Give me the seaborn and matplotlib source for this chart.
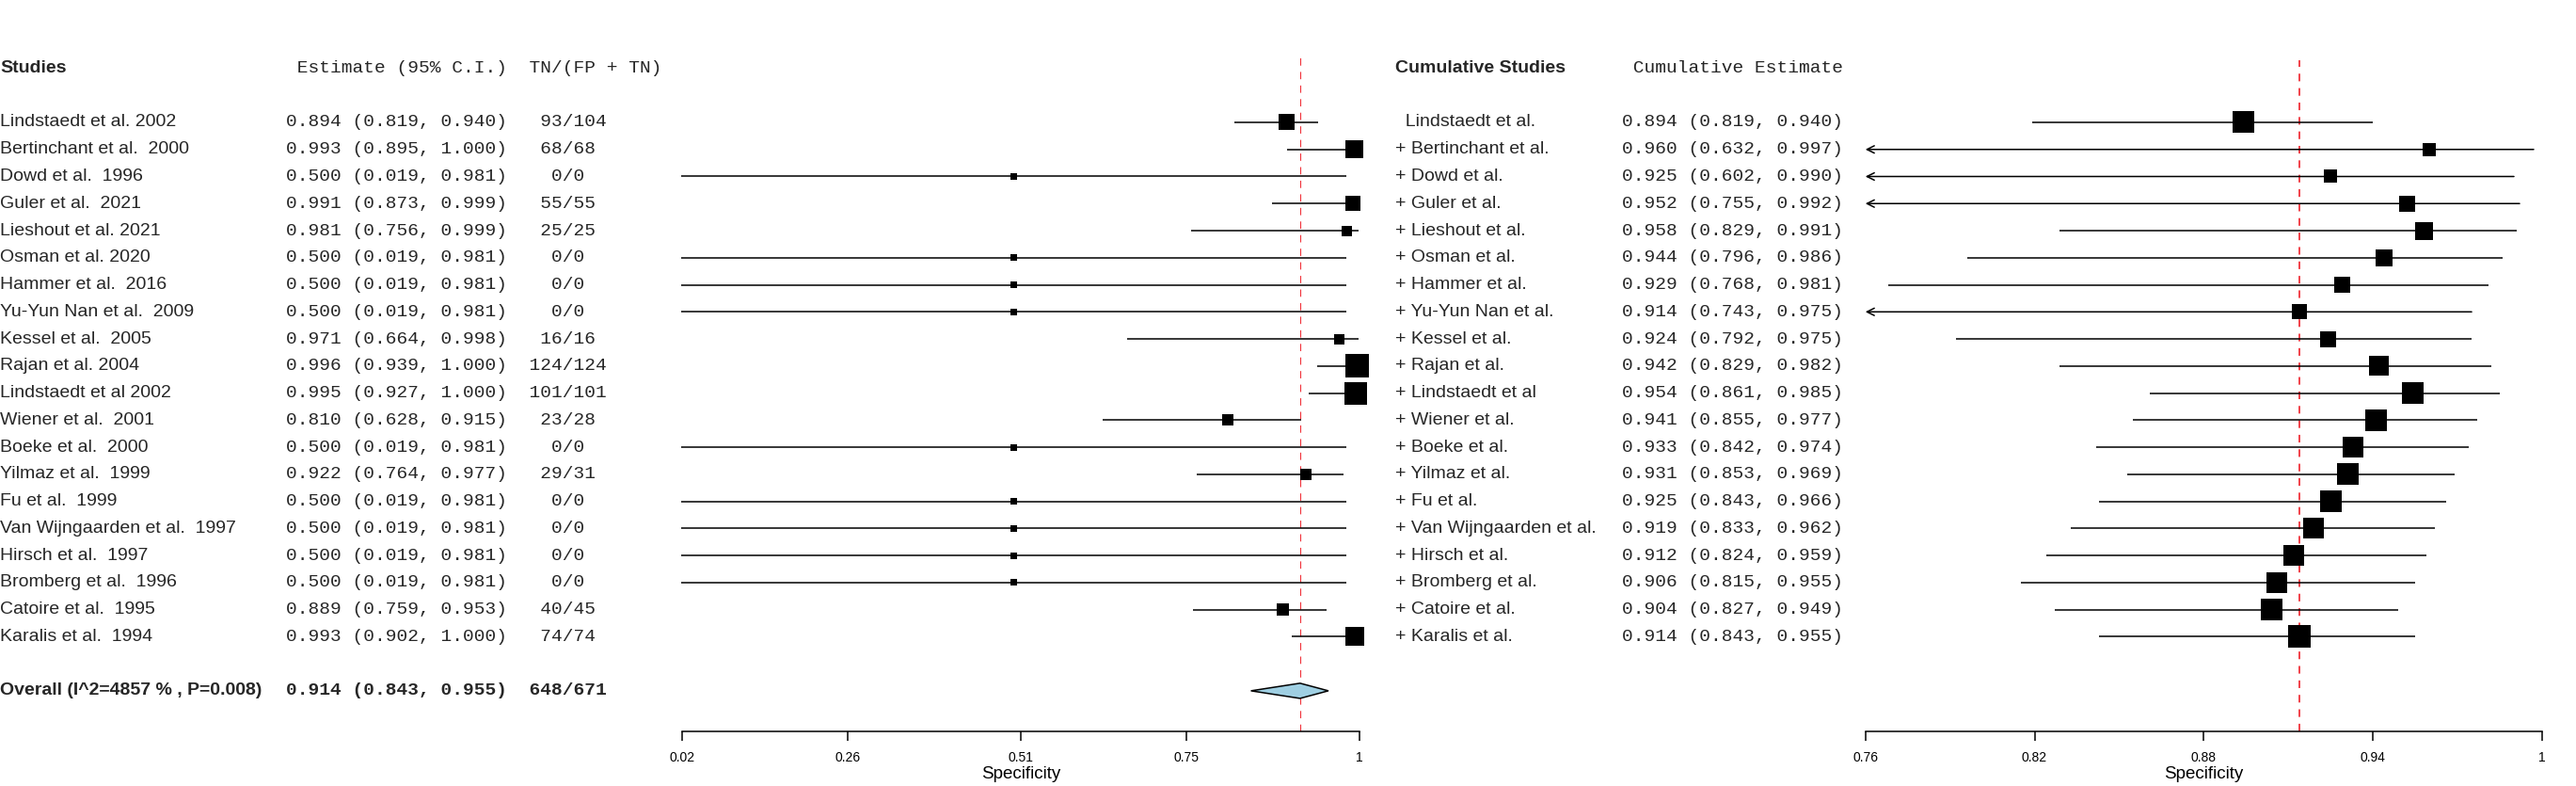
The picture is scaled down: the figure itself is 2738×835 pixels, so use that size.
import numpy as np
import matplotlib
matplotlib.use("Agg")
import matplotlib.pyplot as plt
import matplotlib.transforms as mtransforms
import seaborn as sns

sns.set_theme(style="white")
plt.rcParams["font.family"] = ["Liberation Sans", "DejaVu Sans"]

# ---- data ----
studies = ["Lindstaedt et al. 2002", "Bertinchant et al.  2000", "Dowd et al.  1996",
           "Guler et al.  2021", "Lieshout et al. 2021", "Osman et al. 2020",
           "Hammer et al.  2016", "Yu-Yun Nan et al.  2009", "Kessel et al.  2005",
           "Rajan et al. 2004", "Lindstaedt et al 2002", "Wiener et al.  2001",
           "Boeke et al.  2000", "Yilmaz et al.  1999", "Fu et al.  1999",
           "Van Wijngaarden et al.  1997", "Hirsch et al.  1997", "Bromberg et al.  1996",
           "Catoire et al.  1995", "Karalis et al.  1994"]
est = [0.894, 0.993, 0.500, 0.991, 0.981, 0.500, 0.500, 0.500, 0.971, 0.996,
       0.995, 0.810, 0.500, 0.922, 0.500, 0.500, 0.500, 0.500, 0.889, 0.993]
ci_lo = [0.819, 0.895, 0.019, 0.873, 0.756, 0.019, 0.019, 0.019, 0.664, 0.939,
         0.927, 0.628, 0.019, 0.764, 0.019, 0.019, 0.019, 0.019, 0.759, 0.902]
ci_hi = [0.940, 1.000, 0.981, 0.999, 0.999, 0.981, 0.981, 0.981, 0.998, 1.000,
         1.000, 0.915, 0.981, 0.977, 0.981, 0.981, 0.981, 0.981, 0.953, 1.000]
tn = [93, 68, 0, 55, 25, 0, 0, 0, 16, 124, 101, 23, 0, 29, 0, 0, 0, 0, 40, 74]
fp_tn = [104, 68, 0, 55, 25, 0, 0, 0, 16, 124, 101, 28, 0, 31, 0, 0, 0, 0, 45, 74]
weight_px = [17, 19, 7, 16, 11, 7, 7, 7, 11, 25, 24, 12, 7, 12, 7, 7, 7, 7, 13, 20]

overall_label = "Overall (I^2=4857 % , P=0.008)"
overall_est, overall_lo, overall_hi = 0.914, 0.843, 0.955
overall_tn, overall_n = 648, 671

cum_studies = ["Lindstaedt et al.", "Bertinchant et al.", "Dowd et al.", "Guler et al.",
               "Lieshout et al.", "Osman et al.", "Hammer et al.", "Yu-Yun Nan et al.",
               "Kessel et al.", "Rajan et al.", "Lindstaedt et al", "Wiener et al.",
               "Boeke et al.", "Yilmaz et al.", "Fu et al.", "Van Wijngaarden et al.",
               "Hirsch et al.", "Bromberg et al.", "Catoire et al.", "Karalis et al."]
cum_est = [0.894, 0.960, 0.925, 0.952, 0.958, 0.944, 0.929, 0.914, 0.924, 0.942,
           0.954, 0.941, 0.933, 0.931, 0.925, 0.919, 0.912, 0.906, 0.904, 0.914]
cum_lo = [0.819, 0.632, 0.602, 0.755, 0.829, 0.796, 0.768, 0.743, 0.792, 0.829,
          0.861, 0.855, 0.842, 0.853, 0.843, 0.833, 0.824, 0.815, 0.827, 0.843]
cum_hi = [0.940, 0.997, 0.990, 0.992, 0.991, 0.986, 0.981, 0.975, 0.975, 0.982,
          0.985, 0.977, 0.974, 0.969, 0.966, 0.962, 0.959, 0.955, 0.949, 0.955]
cum_weight_px = [23, 14, 14, 17, 19, 18, 17, 16, 17, 21, 23, 23, 22, 23, 23, 22, 22, 22, 23, 24]

left_ticks = [0.02, 0.26, 0.51, 0.75, 1]
right_ticks = [0.76, 0.82, 0.88, 0.94, 1]

# ---- layout ----
W, H = 2738, 835
fig = plt.figure(figsize=(W / 100, H / 100), dpi=100)
ylim = (23.51, -3.52)
ax1 = fig.add_axes([724.7 / W, 57.7 / H, 720.3 / W, 777.3 / H])
ax2 = fig.add_axes([1982.7 / W, 57.7 / H, 719.3 / W, 777.3 / H])

rows = np.arange(1, len(studies) + 1)
overall_row = len(studies) + 2
header_row = -1
FS = 14
mono = ["Liberation Mono", "DejaVu Sans Mono"]
sans = ["Liberation Sans", "DejaVu Sans"]
red = "#F0323A"


def col_text(ax, xpx, y, s, family=sans, bold=False):
    tr = mtransforms.blended_transform_factory(fig.transFigure, ax.transData)
    ax.text(xpx / W, y, s, transform=tr, ha="left", va="center", fontsize=FS,
            family=family, fontweight="bold" if bold else "normal", clip_on=False)


def pad_count(s, width=7):
    lead = (width - len(s) + 1) // 2
    return " " * lead + s


def px_area(px):
    return (np.asarray(px) * 0.72) ** 2


# ---- left panel: individual studies ----
ax1.plot([overall_est, overall_est], [ylim[0], -1.6], color=red, lw=0.8,
         ls=(0, (7, 6)), zorder=1)
ax1.hlines(rows, ci_lo, ci_hi, color="black", lw=1.1, clip_on=False, zorder=2)
sns.scatterplot(x=est, y=rows, s=px_area(weight_px), marker="s", color="black",
                linewidth=0, legend=False, ax=ax1, clip_on=False, zorder=3)
ax1.fill([overall_lo, overall_est, overall_hi, overall_est],
         [overall_row, overall_row - 0.28, overall_row, overall_row + 0.28],
         facecolor="#9FCFE2", edgecolor="black", lw=1.1, zorder=3, clip_on=False)

col_text(ax1, 0, header_row, "Studies", bold=True)
col_text(ax1, 304, header_row, " Estimate (95% C.I.)  TN/(FP + TN)", family=mono)
for r, name, e, lo, hi, a, n in zip(rows, studies, est, ci_lo, ci_hi, tn, fp_tn):
    col_text(ax1, 0, r, name)
    col_text(ax1, 304, r, f"{e:.3f} ({lo:.3f}, {hi:.3f})  {pad_count(f'{a}/{n}')}",
             family=mono)
col_text(ax1, 0, overall_row, overall_label, bold=True)
col_text(ax1, 304, overall_row,
         f"{overall_est:.3f} ({overall_lo:.3f}, {overall_hi:.3f})  "
         f"{pad_count(f'{overall_tn}/{overall_n}')}", family=mono, bold=True)

# ---- right panel: cumulative ----
xmin_r = right_ticks[0]
ax2.plot([overall_est, overall_est], [ylim[0], -1.3], color=red, lw=1.3,
         ls=(0, (4.5, 4)), zorder=1)
for r, lo, hi in zip(rows, cum_lo, cum_hi):
    if lo < xmin_r:
        ax2.annotate("", xy=(xmin_r, r), xytext=(hi, r),
                     arrowprops=dict(arrowstyle="->", lw=1.1, color="black",
                                     shrinkA=0, shrinkB=0, mutation_scale=14),
                     annotation_clip=False)
    else:
        ax2.hlines(r, lo, hi, color="black", lw=1.1, clip_on=False, zorder=2)
sns.scatterplot(x=cum_est, y=rows, s=px_area(cum_weight_px), marker="s", color="black",
                linewidth=0, legend=False, ax=ax2, clip_on=False, zorder=3)

col_text(ax2, 1483, header_row, "Cumulative Studies", bold=True)
col_text(ax2, 1724, header_row, " Cumulative Estimate", family=mono)
for i, (r, name, e, lo, hi) in enumerate(zip(rows, cum_studies, cum_est, cum_lo, cum_hi)):
    label = "  " + name if i == 0 else "+ " + name
    col_text(ax2, 1483, r, label)
    col_text(ax2, 1724, r, f"{e:.3f} ({lo:.3f}, {hi:.3f})", family=mono)

# ---- axes styling ----
for ax, xl, ticks in [(ax1, (0.02, 1.0), left_ticks), (ax2, (0.76, 1.0), right_ticks)]:
    ax.set_xlim(*xl)
    ax.set_ylim(*ylim)
    ax.set_xticks(ticks)
    ax.set_xticklabels([f"{t:g}" for t in ticks])
    ax.set_yticks([])
    for sp in ["top", "left", "right"]:
        ax.spines[sp].set_visible(False)
    ax.spines["bottom"].set_color("black")
    ax.spines["bottom"].set_linewidth(1.1)
    ax.tick_params(axis="x", direction="out", length=7.2, width=1.1, colors="black",
                   labelsize=10, pad=8, bottom=True)
    ax.set_xlabel("Specificity", fontsize=13.5, labelpad=1, color="black")
    ax.patch.set_alpha(0)
    ax.grid(False)

fig.savefig("out.png", dpi=100, facecolor="white")
